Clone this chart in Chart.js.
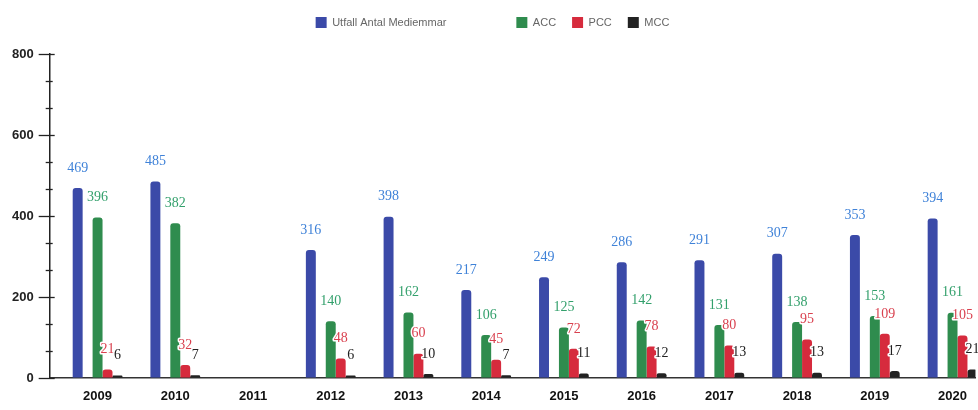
<!DOCTYPE html>
<html>
<head>
<meta charset="utf-8">
<script src="https://cdn.jsdelivr.net/npm/chart.js@4.4.0/dist/chart.umd.min.js"></script>
<style>
  html, body { margin: 0; padding: 0; background: #fff; overflow: hidden; }
  #wrap { width: 978px; height: 410px; }
</style>
</head>
<body>
<div id="wrap"><canvas id="myChart"></canvas></div>
<script>
// data
const years = ['2009', '2010', '2011', '2012', '2013', '2014', '2015', '2016', '2017', '2018', '2019', '2020'];
const utfall = [469, 485, null, 316, 398, 217, 249, 286, 291, 307, 353, 394];
const acc = [396, 382, null, 140, 162, 106, 125, 142, 131, 138, 153, 161];
const pcc = [21, 32, null, 48, 60, 45, 72, 78, 80, 95, 109, 105];
const mcc = [6, 7, null, 6, 10, 7, 11, 12, 13, 13, 17, 21];
const gap = years.map(() => null); // empty slot between the blue bar and the rest
const yMajor = [0, 200, 400, 600, 800];

// y ticks: majors plus two minor ticks between them
const yTicks = [];
for (let i = 0; i < yMajor.length; i++) {
  yTicks.push(yMajor[i]);
  if (i < yMajor.length - 1) {
    const step = (yMajor[i + 1] - yMajor[i]) / 3;
    yTicks.push(yMajor[i] + step, yMajor[i] + 2 * step);
  }
}
const yearNums = years.map(Number);

const valueLabels = {
  id: 'valueLabels',
  afterDatasetsDraw(chart) {
    const ctx = chart.ctx;
    ctx.save();
    ctx.font = '14px "Liberation Serif", serif';
    ctx.textAlign = 'center';
    ctx.textBaseline = 'middle';
    ctx.lineJoin = 'round';
    chart.data.datasets.forEach((ds, i) => {
      if (!ds.labelColor) return;
      const meta = chart.getDatasetMeta(i);
      meta.data.forEach((bar, j) => {
        const v = ds.data[j];
        if (v == null) return;
        ctx.strokeStyle = '#fff';
        ctx.lineWidth = 3;
        ctx.strokeText(v, bar.x, bar.y - 20);
        ctx.fillStyle = ds.labelColor;
        ctx.fillText(v, bar.x, bar.y - 20);
      });
    });
    ctx.restore();
  }
};

// tick marks crossing the y axis line
const yTickMarks = {
  id: 'yTickMarks',
  afterDraw(chart) {
    const ctx = chart.ctx;
    const y = chart.scales.y;
    const x0 = chart.chartArea.left;
    ctx.save();
    ctx.strokeStyle = '#222';
    ctx.lineWidth = 1.3;
    y.ticks.forEach(t => {
      const py = Math.round(y.getPixelForValue(t.value)) + 0.5;
      const major = yMajor.includes(Math.round(t.value));
      ctx.beginPath();
      ctx.moveTo(x0 - (major ? 11 : 4), py);
      ctx.lineTo(x0 + (major ? 5 : 3), py);
      ctx.stroke();
    });
    ctx.restore();
  }
};

// more room under the legend
const legendMargin = {
  id: 'legendMargin',
  beforeInit(chart) {
    const fit = chart.legend.fit;
    chart.legend.fit = function () {
      fit.bind(chart.legend)();
      this.height += 16;
    };
  }
};

const ctx = document.getElementById('myChart');

new Chart(ctx, {
  type: 'bar',
  data: {
    labels: years,
    datasets: [
      { label: 'Utfall Antal Mediemmar', data: utfall, backgroundColor: '#3b4aa8', labelColor: '#3f82d8' },
      { label: '       ', data: gap, backgroundColor: 'rgba(0,0,0,0)' },
      { label: 'ACC', data: acc, backgroundColor: '#2f8c4e', labelColor: '#33a06c' },
      { label: 'PCC', data: pcc, backgroundColor: '#d62b3d', labelColor: '#d9414f' },
      { label: 'MCC', data: mcc, backgroundColor: '#222222', labelColor: '#222222' }
    ]
  },
  options: {
    responsive: true,
    maintainAspectRatio: false,
    animation: false,
    categoryPercentage: 0.64,
    barPercentage: 1.0,
    borderRadius: { topLeft: 3, topRight: 3 },
    borderSkipped: 'bottom',
    layout: { padding: { top: 1, left: 7, right: 0, bottom: 0 } },
    plugins: {
      legend: {
        position: 'top',
        labels: {
          boxWidth: 11,
          boxHeight: 11,
          padding: 16,
          color: '#666',
          font: { family: '"Liberation Sans", Arial, sans-serif', size: 11 }
        }
      },
      tooltip: { enabled: false }
    },
    scales: {
      x: {
        type: 'linear',
        offset: false,
        min: 2008.384,
        max: 2020.295,
        grid: { display: false, drawTicks: false, offset: false },
        border: { display: true, color: '#333', width: 1.5 },
        afterBuildTicks: scale => { scale.ticks = yearNums.map(v => ({ value: v })); },
        afterFit: scale => { scale.height = 32; },
        ticks: {
          stepSize: 1,
          padding: 11,
          color: '#111',
          font: { family: '"Liberation Sans", Arial, sans-serif', size: 13, weight: 'bold' },
          callback: v => String(v)
        }
      },
      y: {
        min: 0,
        max: 800,
        grid: { drawOnChartArea: false, drawTicks: true, tickLength: 11, color: 'rgba(0,0,0,0)' },
        border: { display: true, color: '#222', width: 1.5 },
        afterBuildTicks: scale => { scale.ticks = yTicks.map(v => ({ value: v })); },
        ticks: {
          padding: 5,
          color: '#222',
          font: { family: '"Liberation Sans", Arial, sans-serif', size: 13, weight: 'bold' },
          callback: v => (yMajor.includes(Math.round(v)) ? Math.round(v) : '')
        }
      }
    }
  },
  plugins: [valueLabels, yTickMarks, legendMargin]
});
</script>
</body>
</html>
